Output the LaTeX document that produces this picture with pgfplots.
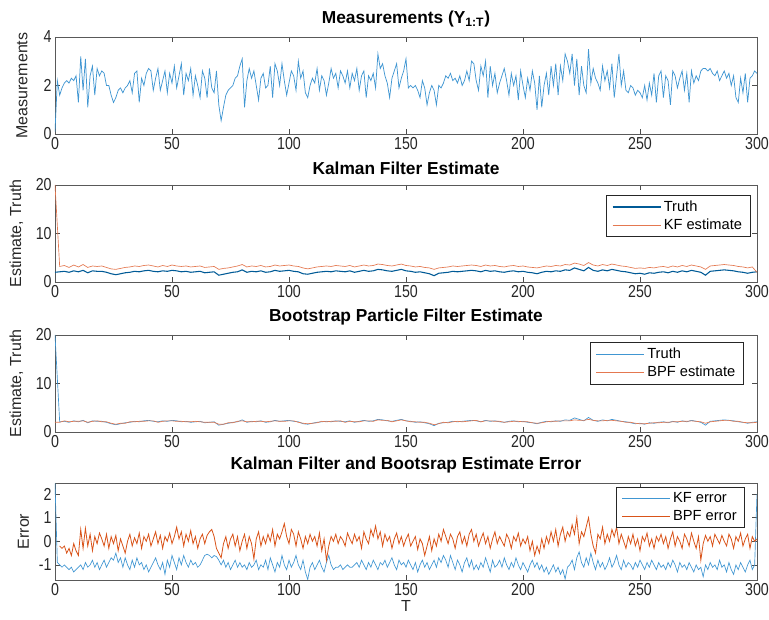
\documentclass[border=0pt]{standalone}
\usepackage{fontspec}
\setmainfont{Liberation Sans}
\newfontfamily\tickfont[FakeStretch=0.82]{Liberation Sans}
\usepackage{pgfplots}
\usepackage{pgfplotstable}
\pgfplotsset{compat=1.18}
\definecolor{mblue}{RGB}{0,114,189}
\definecolor{morange}{RGB}{217,83,25}
\definecolor{lblue}{RGB}{64,150,210}
\definecolor{lorange}{RGB}{228,120,80}
\definecolor{dblue}{RGB}{0,90,150}

% Measurements, t = 0..300
\pgfplotstableread[row sep=\\]{
y\\
0.1\\2.2\\1.6\\1.9\\2.1\\2.2\\2.1\\2.3\\2.2\\2.4\\
1.3\\3.2\\1.8\\3.1\\1.1\\2.4\\2.8\\1.6\\2.7\\2.4\\
2.6\\2.5\\2.0\\2.0\\1.6\\1.3\\1.5\\1.8\\1.9\\1.7\\
1.9\\2.0\\2.2\\1.7\\2.5\\2.6\\1.3\\2.3\\2.0\\2.5\\
2.7\\2.6\\1.8\\2.3\\2.7\\1.8\\2.2\\2.6\\1.7\\2.5\\
2.1\\2.8\\1.9\\2.4\\2.9\\1.6\\2.5\\2.2\\2.7\\1.6\\
2.4\\2.0\\1.5\\2.6\\2.3\\1.5\\2.7\\1.9\\1.7\\2.6\\
1.2\\0.55\\1.1\\1.6\\1.8\\1.9\\2.0\\2.3\\2.4\\2.8\\
3.1\\1.1\\2.2\\2.7\\2.3\\2.6\\2.0\\1.4\\2.3\\2.5\\
1.9\\2.0\\2.8\\1.5\\2.9\\2.6\\2.0\\2.9\\2.2\\1.6\\
2.1\\2.6\\2.4\\1.8\\3.0\\2.3\\2.6\\1.7\\1.5\\2.0\\
2.3\\2.1\\2.7\\1.8\\2.4\\2.2\\1.6\\2.1\\2.7\\2.3\\
2.5\\1.9\\2.6\\2.4\\2.1\\2.6\\1.9\\2.5\\2.2\\2.7\\
1.8\\2.4\\2.6\\1.5\\2.4\\2.2\\2.5\\1.9\\3.3\\2.7\\
2.9\\2.4\\2.1\\1.5\\2.3\\2.6\\2.9\\1.9\\2.3\\2.6\\
3.1\\1.9\\2.0\\1.9\\2.0\\1.8\\1.5\\2.2\\1.9\\1.2\\
1.7\\2.0\\1.8\\1.2\\2.0\\1.9\\2.1\\2.4\\2.3\\2.5\\
2.2\\2.3\\2.1\\2.4\\2.0\\2.2\\2.6\\2.2\\3.0\\2.9\\
2.2\\1.8\\2.8\\2.4\\3.0\\1.5\\2.8\\2.0\\2.5\\1.7\\
2.1\\2.4\\2.7\\2.2\\1.6\\2.5\\2.0\\2.4\\1.4\\2.6\\
2.0\\1.5\\2.3\\1.8\\2.6\\2.1\\1.0\\2.4\\1.1\\2.0\\
2.5\\1.6\\2.8\\2.0\\2.9\\1.6\\2.8\\2.2\\3.3\\3.0\\
2.5\\3.3\\2.0\\3.1\\1.6\\2.8\\2.0\\1.7\\3.5\\2.1\\
2.7\\2.3\\2.1\\1.8\\2.8\\2.2\\2.6\\1.9\\2.9\\1.5\\
2.4\\3.3\\2.0\\2.6\\1.8\\1.7\\2.0\\1.9\\1.6\\1.8\\
1.7\\1.5\\2.0\\1.4\\2.1\\1.6\\2.5\\1.3\\2.4\\2.6\\
1.5\\2.4\\2.2\\1.2\\2.6\\2.4\\1.9\\2.3\\2.6\\1.8\\
2.5\\1.3\\2.6\\2.1\\2.4\\2.2\\2.6\\2.7\\2.7\\2.6\\
2.7\\2.5\\2.4\\2.6\\2.2\\2.4\\2.6\\2.3\\2.5\\2.0\\
2.4\\1.5\\1.3\\2.3\\1.7\\2.5\\1.3\\2.3\\2.4\\2.6\\
2.5\\
}\meas

% Truth, t = 0,2,...,300
\pgfplotstableread[row sep=\\]{
y\\
2.0\\2.1\\2.2\\2.0\\2.3\\2.1\\2.4\\1.9\\2.3\\2.2\\
2.2\\2.0\\1.7\\1.5\\1.7\\1.9\\2.0\\2.2\\2.1\\2.3\\
2.4\\2.2\\2.1\\2.3\\2.2\\2.4\\2.3\\2.1\\2.2\\2.0\\
2.1\\2.2\\1.9\\2.0\\2.1\\1.4\\1.6\\1.8\\2.0\\2.1\\
2.5\\2.0\\2.2\\2.1\\2.3\\2.0\\2.1\\2.4\\2.2\\2.3\\
2.4\\2.2\\2.1\\1.7\\1.6\\1.8\\2.0\\2.1\\2.2\\2.1\\
2.3\\2.2\\2.1\\2.3\\2.0\\2.2\\2.4\\2.2\\2.3\\2.6\\
2.5\\2.3\\2.2\\2.4\\2.6\\2.3\\2.2\\2.0\\2.1\\1.9\\
1.7\\1.3\\1.8\\1.9\\2.0\\2.2\\2.1\\2.2\\2.3\\2.4\\
2.3\\2.1\\2.4\\2.2\\2.3\\2.1\\2.0\\2.2\\2.3\\2.1\\
2.2\\2.0\\1.9\\1.7\\2.0\\2.2\\2.1\\2.3\\2.2\\2.5\\
2.4\\2.9\\2.6\\2.3\\3.0\\2.4\\2.2\\2.5\\2.3\\2.6\\
2.4\\2.2\\2.1\\1.9\\1.7\\1.8\\1.6\\1.9\\1.8\\2.0\\
2.1\\1.9\\2.2\\2.0\\2.3\\2.1\\2.4\\2.2\\2.0\\1.4\\
2.2\\2.3\\2.4\\2.5\\2.4\\2.3\\2.1\\2.0\\1.8\\2.0\\
2.1\\
}\truth

% Truth as drawn in the BPF panel (starts at 20), t = 0,2,...,300
\pgfplotstableread[row sep=\\]{
y\\
20\\2.1\\2.2\\2.0\\2.3\\2.1\\2.4\\1.9\\2.3\\2.2\\
2.2\\2.0\\1.7\\1.5\\1.7\\1.9\\2.0\\2.2\\2.1\\2.3\\
2.4\\2.2\\2.1\\2.3\\2.2\\2.4\\2.3\\2.1\\2.2\\2.0\\
2.1\\2.2\\1.9\\2.0\\2.1\\1.4\\1.6\\1.8\\2.0\\2.1\\
2.5\\2.0\\2.2\\2.1\\2.3\\2.0\\2.1\\2.4\\2.2\\2.3\\
2.4\\2.2\\2.1\\1.7\\1.6\\1.8\\2.0\\2.1\\2.2\\2.1\\
2.3\\2.2\\2.1\\2.3\\2.0\\2.2\\2.4\\2.2\\2.3\\2.6\\
2.5\\2.3\\2.2\\2.4\\2.6\\2.3\\2.2\\2.0\\2.1\\1.9\\
1.7\\1.3\\1.8\\1.9\\2.0\\2.2\\2.1\\2.2\\2.3\\2.4\\
2.3\\2.1\\2.4\\2.2\\2.3\\2.1\\2.0\\2.2\\2.3\\2.1\\
2.2\\2.0\\1.9\\1.7\\2.0\\2.2\\2.1\\2.3\\2.2\\2.5\\
2.4\\2.9\\2.6\\2.3\\3.0\\2.4\\2.2\\2.5\\2.3\\2.6\\
2.4\\2.2\\2.1\\1.9\\1.7\\1.8\\1.6\\1.9\\1.8\\2.0\\
2.1\\1.9\\2.2\\2.0\\2.3\\2.1\\2.4\\2.2\\2.0\\1.4\\
2.2\\2.3\\2.4\\2.5\\2.4\\2.3\\2.1\\2.0\\1.8\\2.0\\
2.1\\
}\truthb

% KF estimate, t = 0,2,...,300
\pgfplotstableread[row sep=\\]{
y\\
20\\3.2\\3.4\\3.0\\3.5\\3.1\\3.6\\3.0\\3.3\\3.2\\
3.3\\3.0\\2.7\\2.6\\2.8\\3.0\\3.1\\3.3\\3.2\\3.4\\
3.5\\3.3\\3.1\\3.4\\3.2\\3.5\\3.3\\3.2\\3.3\\3.1\\
3.2\\3.3\\3.0\\3.1\\3.2\\2.6\\2.8\\2.9\\3.1\\3.3\\
3.6\\3.1\\3.3\\3.2\\3.4\\3.1\\3.2\\3.5\\3.3\\3.4\\
3.5\\3.3\\3.2\\2.9\\2.7\\2.9\\3.1\\3.2\\3.3\\3.2\\
3.4\\3.3\\3.2\\3.4\\3.1\\3.3\\3.5\\3.3\\3.4\\3.7\\
3.6\\3.4\\3.3\\3.5\\3.7\\3.4\\3.3\\3.1\\3.2\\3.0\\
2.9\\2.6\\2.9\\3.0\\3.1\\3.3\\3.2\\3.3\\3.4\\3.5\\
3.4\\3.2\\3.5\\3.3\\3.4\\3.2\\3.1\\3.3\\3.4\\3.2\\
3.3\\3.1\\3.0\\2.9\\3.1\\3.3\\3.2\\3.4\\3.3\\3.6\\
3.5\\3.9\\3.7\\3.4\\4.0\\3.5\\3.3\\3.6\\3.4\\3.7\\
3.5\\3.3\\3.2\\3.0\\2.8\\2.9\\2.8\\3.0\\2.9\\3.1\\
3.2\\3.0\\3.3\\3.1\\3.4\\3.2\\3.5\\3.3\\3.1\\2.6\\
3.3\\3.4\\3.5\\3.6\\3.5\\3.4\\3.2\\3.1\\2.9\\3.1\\
2.0\\
}\kfest

% BPF estimate, t = 0,2,...,300
\pgfplotstableread[row sep=\\]{
y\\
2.0\\2.0\\2.3\\2.1\\2.2\\2.2\\2.3\\2.0\\2.2\\2.3\\
2.1\\2.1\\1.8\\1.6\\1.8\\1.8\\2.1\\2.1\\2.2\\2.2\\
2.3\\2.3\\2.0\\2.2\\2.3\\2.3\\2.2\\2.2\\2.1\\2.1\\
2.2\\2.1\\2.0\\2.0\\2.0\\1.6\\1.6\\1.9\\1.9\\2.2\\
2.3\\2.1\\2.1\\2.2\\2.2\\2.1\\2.2\\2.3\\2.2\\2.2\\
2.3\\2.3\\2.0\\1.8\\1.7\\1.8\\1.9\\2.2\\2.1\\2.2\\
2.2\\2.3\\2.0\\2.2\\2.1\\2.1\\2.3\\2.3\\2.2\\2.5\\
2.4\\2.4\\2.1\\2.3\\2.5\\2.3\\2.1\\2.1\\2.0\\2.0\\
1.8\\1.5\\1.7\\2.0\\1.9\\2.1\\2.2\\2.1\\2.2\\2.3\\
2.4\\2.1\\2.3\\2.3\\2.2\\2.2\\2.0\\2.1\\2.2\\2.2\\
2.1\\2.1\\1.9\\1.8\\1.9\\2.1\\2.2\\2.2\\2.3\\2.3\\
2.3\\2.5\\2.4\\2.4\\2.6\\2.4\\2.3\\2.3\\2.4\\2.4\\
2.3\\2.2\\2.0\\2.0\\1.8\\1.7\\1.7\\1.8\\1.9\\1.9\\
2.0\\2.0\\2.1\\2.1\\2.2\\2.2\\2.3\\2.2\\2.1\\1.8\\
2.1\\2.2\\2.3\\2.4\\2.4\\2.2\\2.2\\2.0\\1.9\\1.9\\
2.0\\
}\bpfest

% KF error, t = 0..300
\pgfplotstableread[row sep=\\]{
y\\
2.45\\-0.9\\-1.0\\-1.1\\-1.0\\-1.1\\-1.2\\-1.1\\-1.3\\-1.2\\
-1.1\\-1.0\\-1.2\\-0.9\\-1.1\\-1.0\\-0.8\\-1.1\\-0.9\\-1.2\\
-1.0\\-0.8\\-1.1\\-0.9\\-0.7\\-0.8\\-0.5\\-0.9\\-0.7\\-1.1\\
-0.7\\-1.0\\-1.2\\-0.8\\-1.1\\-0.7\\-1.0\\-0.9\\-1.2\\-1.0\\
-1.3\\-1.1\\-0.9\\-0.7\\-1.0\\-1.2\\-0.9\\-1.4\\-0.8\\-1.1\\
-0.6\\-0.9\\-1.2\\-0.7\\-1.0\\-0.6\\-0.9\\-1.1\\-0.8\\-1.0\\
-0.9\\-1.1\\-1.0\\-0.8\\-0.6\\-0.55\\-0.6\\-0.7\\-0.6\\-0.65\\
-0.8\\-1.0\\-0.8\\-1.1\\-0.9\\-1.2\\-1.0\\-0.8\\-1.1\\-0.9\\
-1.1\\-1.0\\-1.2\\-0.9\\-1.1\\-1.0\\-0.8\\-1.2\\-1.0\\-1.1\\
-0.8\\-1.2\\-0.7\\-1.0\\-1.3\\-0.9\\-1.1\\-0.6\\-1.0\\-1.2\\
-0.8\\-1.1\\-0.9\\-0.6\\-1.0\\-1.2\\-0.8\\-1.3\\-1.62\\-1.1\\
-0.9\\-1.2\\-1.0\\-0.8\\-1.1\\-1.3\\-0.9\\-0.6\\-1.0\\-1.2\\
-1.1\\-1.1\\-1.0\\-1.2\\-1.1\\-1.0\\-1.1\\-1.1\\-1.0\\-0.9\\
-1.1\\-0.8\\-1.0\\-1.2\\-0.9\\-1.1\\-0.8\\-1.0\\-1.2\\-0.9\\
-1.0\\-0.8\\-1.1\\-0.9\\-0.7\\-1.0\\-1.2\\-0.8\\-1.0\\-0.9\\
-1.1\\-0.8\\-1.0\\-1.2\\-0.9\\-1.3\\-1.0\\-0.8\\-1.1\\-0.9\\
-1.2\\-1.0\\-0.8\\-1.1\\-0.7\\-0.9\\-0.6\\-0.8\\-1.1\\-0.6\\
-0.9\\-1.2\\-0.8\\-1.0\\-1.3\\-0.9\\-0.7\\-1.1\\-0.8\\-1.2\\
-1.0\\-1.2\\-0.9\\-1.1\\-0.7\\-1.0\\-1.3\\-0.8\\-1.1\\-1.0\\
-0.8\\-1.1\\-0.7\\-1.0\\-1.2\\-0.9\\-1.1\\-0.7\\-1.0\\-1.2\\
-0.9\\-1.1\\-1.3\\-1.0\\-0.8\\-1.1\\-0.9\\-1.2\\-1.0\\-1.3\\
-1.1\\-1.4\\-1.2\\-1.0\\-1.3\\-1.1\\-1.4\\-1.2\\-1.6\\-1.1\\
-1.0\\-0.8\\-1.2\\-0.7\\-0.45\\-0.9\\-1.1\\-0.7\\-1.0\\-0.5\\
-0.9\\-1.2\\-0.8\\-1.1\\-0.9\\-1.2\\-1.0\\-0.7\\-1.1\\-0.9\\
-0.6\\-1.0\\-1.2\\-0.8\\-1.1\\-0.9\\-1.0\\-1.2\\-0.9\\-1.1\\
-0.8\\-1.0\\-1.2\\-0.9\\-1.1\\-0.8\\-1.0\\-1.2\\-0.9\\-1.1\\
-1.0\\-1.2\\-0.9\\-1.1\\-0.8\\-1.0\\-1.3\\-0.9\\-1.1\\-1.0\\
-1.2\\-0.9\\-1.1\\-1.3\\-1.0\\-1.2\\-1.1\\-1.5\\-1.0\\-1.2\\
-0.9\\-1.1\\-1.0\\-1.2\\-0.8\\-1.1\\-1.0\\-1.3\\-0.9\\-1.2\\
-1.4\\-1.0\\-1.2\\-0.9\\-1.1\\-1.3\\-1.0\\-0.8\\-1.2\\-1.0\\
2.0\\
}\kferr

% BPF error, t = 2..300
\pgfplotstableread[row sep=\\]{
y\\
-0.2\\-0.3\\-0.2\\-0.5\\-0.3\\-0.6\\-0.1\\-0.4\\
-0.6\\0.5\\-0.3\\0.55\\-0.2\\0.3\\-0.4\\0.2\\-0.1\\0.35\\
0.1\\-0.2\\0.3\\-0.3\\0.2\\-0.1\\0.25\\-0.4\\0.1\\-0.2\\
-0.5\\0.0\\0.3\\-0.2\\0.15\\-0.1\\0.35\\-0.3\\0.2\\0.0\\
0.3\\-0.2\\0.1\\0.4\\-0.1\\0.25\\-0.3\\0.2\\0.0\\0.35\\
-0.1\\0.2\\0.6\\0.1\\0.4\\-0.2\\0.3\\0.0\\0.45\\-0.1\\
0.2\\-0.3\\0.1\\0.3\\-0.1\\0.25\\0.4\\0.5\\0.2\\-0.3\\
-0.5\\-0.7\\-0.1\\0.2\\-0.3\\0.1\\0.3\\-0.2\\0.2\\-0.4\\
0.0\\0.3\\-0.3\\0.2\\-0.1\\-0.75\\0.1\\0.4\\-0.2\\0.2\\
-0.1\\0.3\\0.0\\0.5\\-0.2\\0.3\\0.1\\0.4\\0.75\\0.2\\
-0.1\\0.5\\0.3\\-0.2\\0.4\\0.1\\-0.3\\0.2\\-0.1\\0.3\\
0.0\\0.2\\-0.2\\0.35\\-0.4\\0.1\\-0.8\\-0.2\\0.2\\0.0\\
0.3\\-0.1\\0.2\\0.05\\-0.2\\0.35\\0.1\\-0.1\\0.3\\0.0\\
0.2\\-0.3\\0.4\\0.1\\-0.1\\0.5\\0.2\\0.65\\0.1\\0.4\\
-0.2\\0.3\\0.0\\0.2\\-0.3\\0.1\\0.35\\-0.1\\0.2\\-0.2\\
0.1\\0.3\\-0.2\\0.0\\0.2\\-0.35\\0.1\\-0.1\\-0.6\\-0.2\\
0.2\\-0.4\\0.1\\-0.2\\0.3\\0.0\\0.5\\0.2\\-0.1\\0.3\\
0.1\\-0.3\\0.2\\0.4\\-0.1\\0.2\\-0.2\\0.3\\0.5\\0.0\\
0.3\\-0.2\\0.1\\0.35\\-0.1\\0.2\\-0.3\\0.1\\0.4\\-0.1\\
0.2\\0.0\\-0.2\\0.3\\0.1\\-0.3\\0.2\\0.0\\0.35\\-0.2\\
0.1\\-0.1\\0.2\\-0.4\\0.0\\-0.6\\-0.2\\-0.5\\0.1\\-0.3\\
0.2\\-0.1\\0.4\\0.0\\0.5\\-0.2\\0.3\\0.6\\0.0\\0.4\\
0.2\\0.7\\0.3\\1.0\\-0.1\\0.4\\0.2\\0.6\\1.0\\0.3\\
-0.2\\-0.5\\0.3\\0.1\\0.6\\-0.1\\0.3\\0.0\\0.5\\0.2\\
0.6\\-0.1\\0.3\\0.0\\-0.3\\0.2\\-0.1\\0.3\\-0.2\\0.1\\
-0.4\\0.2\\0.0\\0.35\\-0.2\\0.1\\-0.3\\0.2\\0.0\\0.3\\
-0.1\\0.2\\-0.3\\0.1\\0.4\\-0.2\\0.2\\0.0\\-0.3\\0.3\\
0.1\\-0.2\\0.35\\0.0\\-0.3\\0.2\\-0.8\\-0.1\\0.25\\0.0\\
0.2\\-0.2\\0.3\\0.1\\-0.1\\0.25\\0.0\\-0.2\\0.3\\0.1\\
-0.3\\0.2\\0.0\\0.35\\-0.2\\0.1\\0.3\\-0.3\\0.2\\0.0\\
0.1\\
}\bpferr

\pgfplotsset{
  mstyle/.style={
    width=526.5pt, height=72.75pt, scale only axis, anchor=south west,
    xmin=0, xmax=300, xtick={0,50,...,300},
    tick align=inside, xtick pos=both, ytick pos=both,
    major tick length=3.5pt,
    every tick/.style={black!70, line width=0.4pt},
    axis line style={black!65, line width=0.5pt},
    /pgf/number format/assume math mode=true,
    ticklabel style={font=\tickfont\fontsize{13}{14}\selectfont, black!85},
    xticklabel style={yshift=1pt},
    yticklabel style={xshift=1pt},
    label style={font=\fontsize{12}{14}\selectfont, black!85},
    ylabel style={at={(axis description cs:-0.047,0.5)}, anchor=center},
    title style={font=\bfseries\fontsize{13}{15}\selectfont, yshift=-2pt},
    legend style={anchor=north east, font=\fontsize{11}{12}\selectfont,
      draw=black!85, line width=0.5pt, inner xsep=4pt, inner ysep=2pt,
      legend cell align=left},
    legend image code/.code={\draw[#1] (0pt,0pt) -- (36pt,0pt);},
    clip=true,
  }
}

\begin{document}
\begin{tikzpicture}[x=1pt,y=1pt]
\useasboundingbox (0,0) rectangle (576.75,465);

\begin{axis}[mstyle, at={(41.25pt,364.5pt)},
  ymin=0, ymax=4, ytick={0,2,4},
  ylabel={Measurements},
  title={Measurements (Y\textsubscript{1:T})}]
\addplot[color=lblue, line width=0.55pt, no markers] table[x expr=\coordindex, y=y] {\meas};
\end{axis}

\begin{axis}[mstyle, at={(41.25pt,253.5pt)},
  ymin=0, ymax=20, ytick={0,10,20},
  ylabel={Estimate, Truth},
  ylabel style={at={(axis description cs:-0.055,0.5)}},
  title={Kalman Filter Estimate},
  legend style={at={(1,1)}, xshift=-5pt, yshift=-7.5pt}]
\addplot[color=dblue, line width=0.8pt, no markers] table[x expr=2*\coordindex, y=y] {\truth};
\addplot[color=lorange, line width=0.5pt, no markers] table[x expr=2*\coordindex, y=y] {\kfest};
\legend{Truth, KF estimate}
\end{axis}

\begin{axis}[mstyle, at={(41.25pt,141pt)},
  ymin=0, ymax=20, ytick={0,10,20},
  ylabel={Estimate, Truth},
  ylabel style={at={(axis description cs:-0.055,0.5)}},
  title={Bootstrap Particle Filter Estimate},
  legend style={at={(1,1)}, xshift=-10pt, yshift=-5.5pt}]
\addplot[color=lblue, line width=0.5pt, no markers] table[x expr=2*\coordindex, y=y] {\truthb};
\addplot[color=lorange, line width=0.5pt, no markers] table[x expr=2*\coordindex, y=y] {\bpfest};
\legend{Truth, BPF estimate}
\end{axis}

\begin{axis}[mstyle, at={(41.25pt,30pt)},
  ymin=-1.64, ymax=2.47, ytick={-1,0,1,2},
  ylabel={Error}, xlabel={T},
  ylabel style={at={(axis description cs:-0.045,0.5)}},
  xlabel style={yshift=3pt},
  title={Kalman Filter and Bootsrap Estimate Error},
  legend style={at={(1,1)}, xshift=-9pt, yshift=-3pt}]
\addplot[color=lblue, line width=0.5pt, no markers] table[x expr=\coordindex, y=y] {\kferr};
\addplot[color=morange, line width=0.6pt, no markers] table[x expr=\coordindex+2, y=y] {\bpferr};
\legend{KF error, BPF error}
\end{axis}
\end{tikzpicture}
\end{document}
